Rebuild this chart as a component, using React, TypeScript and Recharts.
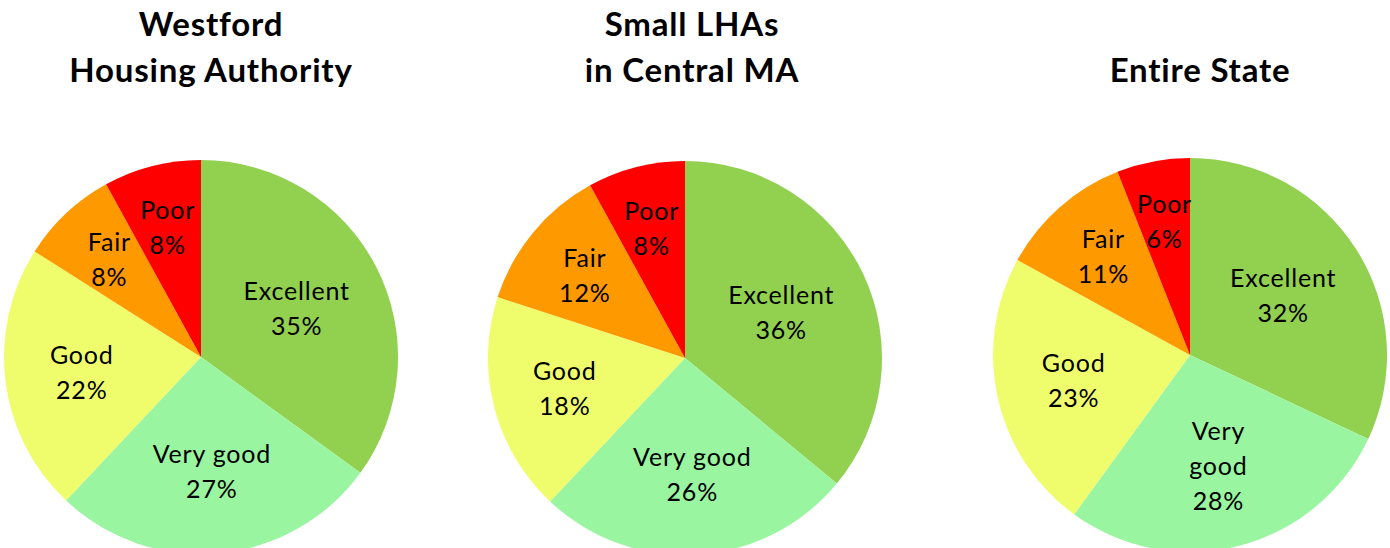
import { PieChart, Pie, Cell } from 'recharts';

// Slice order, clockwise from 12 o'clock
const categories = ['Excellent', 'Very good', 'Good', 'Fair', 'Poor'];
const colors = ['#92D050', '#99F59F', '#EFFD6D', '#FF9900', '#FF0000'];

// Percent of units in each condition
const westfordValues = [35, 27, 22, 8, 8];
const centralValues = [36, 26, 18, 12, 8];
const stateValues = [32, 28, 23, 11, 6];

// Label text per slice (line breaks as Excel wrapped them)
const westfordLabels = ['Excellent', 'Very good', 'Good', 'Fair', 'Poor'];
const centralLabels = ['Excellent', 'Very good', 'Good', 'Fair', 'Poor'];
const stateLabels = ['Excellent', 'Very\ngood', 'Good', 'Fair', 'Poor'];

const westfordTitle = ['Westford', 'Housing Authority'];
const centralTitle = ['Small LHAs', 'in Central MA'];
const stateTitle = ['Entire State'];

const FONT = 'Lato, "Open Sans", sans-serif';
const RADIAN = Math.PI / 180;
const W = 1390;
const H = 548;
const R = 197;

function buildData(values: number[], labels: string[]) {
    return categories.map((name, i) => ({ name, value: values[i], label: labels[i] }));
}

const charts = [
    { title: westfordTitle, data: buildData(westfordValues, westfordLabels), cx: 201, cy: 357, tx: 211 },
    { title: centralTitle, data: buildData(centralValues, centralLabels), cx: 685, cy: 358, tx: 692 },
    { title: stateTitle, data: buildData(stateValues, stateLabels), cx: 1190, cy: 355, tx: 1200 },
];

function SliceLabel(props: any) {
    const { cx, cy, midAngle, outerRadius, percent, payload } = props;
    // big slices get their label nearer the centre, small ones nearer the rim
    const r = outerRadius * (0.72 - 0.5 * percent);
    const x = cx + r * Math.cos(-midAngle * RADIAN);
    const y = cy + r * Math.sin(-midAngle * RADIAN);
    const lines = [...String(payload.label).split('\n'), `${payload.value}%`];
    const lh = 35;
    return (
        <g>
            {lines.map((t, i) => (
                <text
                    key={i}
                    x={x}
                    y={y + (i - (lines.length - 1) / 2) * lh + 9}
                    textAnchor="middle"
                    fill="#000"
                    fontFamily={FONT}
                    fontSize={25}
                    letterSpacing={0.8}
                >
                    {t}
                </text>
            ))}
        </g>
    );
}

export default function App() {
    return (
        <div style={{ position: 'absolute', left: 0, top: 0, width: W, height: H, background: '#fff', overflow: 'hidden' }}>
            {charts.map((c, i) => (
                <div
                    key={i}
                    style={{
                        position: 'absolute',
                        left: c.tx - 250,
                        top: c.title.length === 1 ? 46 : 0,
                        width: 500,
                        textAlign: 'center',
                        fontFamily: FONT,
                        fontWeight: 700,
                        fontSize: 33,
                        letterSpacing: 0.8,
                        lineHeight: '46px',
                        color: '#000',
                    }}
                >
                    {c.title.map((t, j) => (
                        <div key={j}>{t}</div>
                    ))}
                </div>
            ))}
            <div style={{ position: 'absolute', left: 0, top: 0 }}>
                <PieChart width={W} height={H} margin={{ top: 0, right: 0, bottom: 0, left: 0 }}>
                    {charts.map((c, i) => (
                        <Pie
                            key={i}
                            data={c.data}
                            dataKey="value"
                            nameKey="name"
                            cx={c.cx}
                            cy={c.cy}
                            outerRadius={R}
                            startAngle={90}
                            endAngle={-270}
                            stroke="none"
                            label={SliceLabel}
                            labelLine={false}
                            isAnimationActive={false}
                        >
                            {c.data.map((d, k) => (
                                <Cell key={d.name} fill={colors[k]} />
                            ))}
                        </Pie>
                    ))}
                </PieChart>
            </div>
        </div>
    );
}
